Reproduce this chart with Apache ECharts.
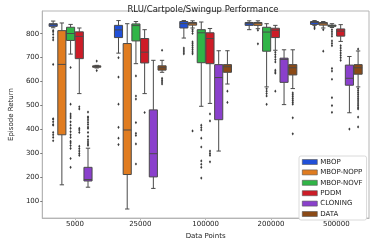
<!DOCTYPE html>
<html><head><meta charset="utf-8">
<script src="https://cdn.jsdelivr.net/npm/echarts@6/dist/echarts.min.js"></script>
<style>html,body{margin:0;padding:0;background:#fff}#c{width:374px;height:245px}</style>
</head><body><div id="c"></div>
<script>
const categories = ['5000', '25000', '100000', '200000', '500000'];
const methods = ['MBOP', 'MBOP-NOPP', 'MBOP-NOVF', 'PDDM', 'CLONING', 'DATA'];
const yTicks = [100, 200, 300, 400, 500, 600, 700, 800];

// box stats per category: [lowWhisker, q1, median, q3, highWhisker]
const mbopBox = [[825,831,838,842,853],[719,784,816,835,855],[782,824,842,851,855],[817,835,842,847,854],[835,839,847,851,855]];
const mbopNoppBox = [[169,378,672,813,845],[68,212,398,759,842],[824,836,842,847,854],[821,835,842,847,854],[824,836,842,847,851]];
const mbopNovfBox = [[715,772,801,827,839],[675,770,834,841,851],[497,679,804,817,849],[578,727,807,827,842],[826,831,834,836,842]];
const pddmBox = [[550,696,789,808,824],[550,678,723,780,817],[509,675,780,804,822],[731,784,815,823,835],[768,790,811,820,838]];
const cloningBox = [[159,185,191,242,322],[154,202,299,482,689],[310,441,617,671,729],[504,597,693,698,733],[470,585,614,669,705]];
const dataBox = [[657,660,663,666,668],[639,648,658,666,689],[590,639,662,671,729],[571,628,658,671,733],[578,631,658,671,728]];

// outliers per category
const mbopOut = [[814,808,797,784,774,672,445,443,432,421,418,388,378,367,353],[700,619,506,409,364,337],[740,732,724,716],[],[828,821]];
const mbopNoppOut = [[],[],[817,810,801,766,758,750,741,733,724,716,394],[815,758],[817,727]];
const mbopNovfOut = [[659,506,465,456,448,432,418,405,391,378,367,351,344,333,321,279,242],[624,540,527,429,384,375,340,256],[418,408,398,364,327,269,255,242,197],[570,560,550,540,505],[817,808,799,790,770,760,750,655,644,610,533,500,472]];
const pddmOut = [[495,486,405,398,388,330,320,310,300,292],[471],[465,436,310,300,292,265],[723,713,703,692,682,648,640,635,560],[750,740,730,720,710,700,689]];
const cloningOut = [[473,453,449,440,430,421,410,405,388,371,357,348,340,334],[],[],[],[402]];
const dataOut = [[686,646],[731,614,606,598,590],[560,513],[553,545,537,529,521,513,506,449,382],[736,571,563,555,547,539,531,523,515,507,499,491,486,452,411]];

const colors = ['#2150d8', '#e07c20', '#30b547', '#cd1c27', '#8a40cc', '#8b4a16'];
const boxes = [mbopBox, mbopNoppBox, mbopNovfBox, pddmBox, cloningBox, dataBox];
const outs = [mbopOut, mbopNoppOut, mbopNovfOut, pddmOut, cloningOut, dataOut];

const EDGE = '#4a4a4a';
const nM = methods.length;

function boxRender(k) {
  return function (params, api) {
    const ci = api.value(0);
    const bw = api.size([1, 0])[0];
    const w = bw * 0.8 / nM;
    const off = (k - (nM - 1) / 2) * w;
    const pLow = api.coord([ci, api.value(1)]);
    const pQ1 = api.coord([ci, api.value(2)]);
    const pMed = api.coord([ci, api.value(3)]);
    const pQ3 = api.coord([ci, api.value(4)]);
    const pHigh = api.coord([ci, api.value(5)]);
    const cx = pLow[0] + off;
    const hw = w / 2 - 0.3;
    const cap = w * 0.25;
    const ls = { stroke: EDGE, lineWidth: 1 };
    return {
      type: 'group',
      children: [
        { type: 'line', shape: { x1: cx, y1: pQ1[1], x2: cx, y2: pLow[1] }, style: ls },
        { type: 'line', shape: { x1: cx, y1: pQ3[1], x2: cx, y2: pHigh[1] }, style: ls },
        { type: 'line', shape: { x1: cx - cap, y1: pLow[1], x2: cx + cap, y2: pLow[1] }, style: ls },
        { type: 'line', shape: { x1: cx - cap, y1: pHigh[1], x2: cx + cap, y2: pHigh[1] }, style: ls },
        { type: 'rect', shape: { x: cx - hw, y: pQ3[1], width: hw * 2, height: Math.max(pQ1[1] - pQ3[1], 1) },
          style: { fill: colors[k], stroke: EDGE, lineWidth: 1 } },
        { type: 'line', shape: { x1: cx - hw, y1: pMed[1], x2: cx + hw, y2: pMed[1] }, style: ls }
      ]
    };
  };
}
function outRender(k) {
  return function (params, api) {
    const ci = api.value(0);
    const bw = api.size([1, 0])[0];
    const w = bw * 0.8 / nM;
    const off = (k - (nM - 1) / 2) * w;
    const p = api.coord([ci, api.value(1)]);
    const cx = p[0] + off, cy = p[1];
    return { type: 'polygon', shape: { points: [[cx, cy - 1.6], [cx + 1.1, cy], [cx, cy + 1.6], [cx - 1.1, cy]] },
      style: { fill: '#3a3a3a' } };
  };
}

const series = [];
methods.forEach(function (m, k) {
  series.push({
    name: m, type: 'custom', renderItem: boxRender(k),
    itemStyle: { color: colors[k], borderColor: EDGE, borderWidth: 0.8 },
    encode: { x: 0, y: [1, 2, 3, 4, 5] },
    data: boxes[k].map(function (b, i) { return [i].concat(b); }),
    z: 2
  });
});
methods.forEach(function (m, k) {
  const d = [];
  outs[k].forEach(function (arr, i) { arr.forEach(function (v) { d.push([i, v]); }); });
  series.push({
    name: m + ' outliers', type: 'custom', renderItem: outRender(k),
    encode: { x: 0, y: 1 }, data: d, z: 3, silent: true
  });
});

const AX = '#b5b5b5';
const chart = echarts.init(document.getElementById('c'), null, { renderer: 'canvas' });
chart.setOption({
  animation: false,
  textStyle: { fontFamily: 'DejaVu Sans' },
  title: {
    text: 'RLU/Cartpole/Swingup Performance', left: 198, textAlign: 'center', top: 0,
    textStyle: { fontSize: 8.5, fontWeight: 'normal', color: '#222', fontFamily: 'DejaVu Sans' }
  },
  grid: { left: 27, right: 5, top: 11, bottom: 21, show: true, borderColor: AX, borderWidth: 1 },
  legend: {
    data: methods, orient: 'vertical', left: 299, top: 156,
    itemWidth: 15, itemHeight: 5, itemGap: 2.4, icon: 'rect',
    padding: [2, 4, 2, 3],
    backgroundColor: '#fff', borderColor: '#d0d0d0', borderWidth: 0.8, borderRadius: 2,
    textStyle: { fontSize: 7, color: '#222', lineHeight: 8, padding: [0, 0, 0, -2] },
    itemStyle: { borderColor: '#555', borderWidth: 0.6 }
  },
  xAxis: {
    type: 'category', data: categories, boundaryGap: true,
    name: 'Data Points', nameLocation: 'middle', nameGap: 12,
    nameTextStyle: { fontSize: 7, color: '#222' },
    axisLine: { lineStyle: { color: AX } },
    axisTick: { show: true, alignWithLabel: true, length: 2, lineStyle: { color: AX } },
    axisLabel: { fontSize: 7, color: '#222', margin: 3 },
    splitLine: { show: false }
  },
  yAxis: {
    type: 'value', min: 30, max: 895,
    name: 'Episode Return', nameLocation: 'middle', nameGap: 20,
    nameTextStyle: { fontSize: 7, color: '#222' },
    axisLine: { show: true, lineStyle: { color: AX } },
    axisTick: { show: true, length: 2, lineStyle: { color: '#777' }, customValues: yTicks },
    axisLabel: { fontSize: 7, color: '#222', margin: 3, customValues: yTicks },
    splitLine: { show: false }
  },
  series: series
});
</script></body></html>
